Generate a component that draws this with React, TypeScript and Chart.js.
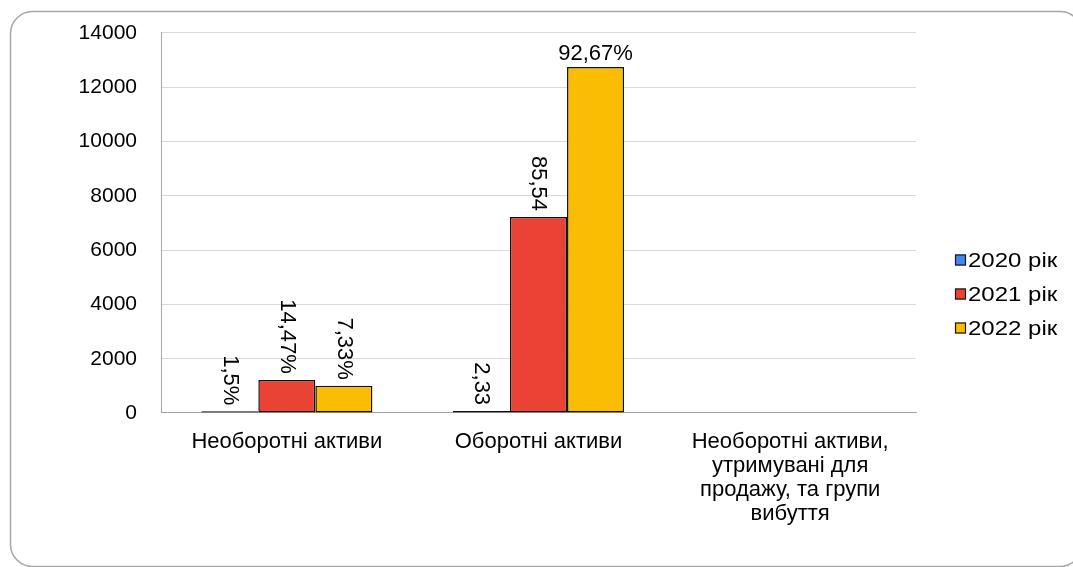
import React, { useEffect, useRef } from "react";
import { Chart, registerables } from "chart.js";

Chart.register(...registerables);

const categories: string[][] = [
  ["Необоротні активи"],
  ["Оборотні активи"],
  ["Необоротні активи,", "утримувані для", "продажу, та групи", "вибуття"],
];
const seriesNames = ["2020 рік", "2021 рік", "2022 рік"];
const values2020 = [60, 70, 0];
const values2021 = [1220, 7220, 0];
const values2022 = [1000, 12750, 0];
const labels2020 = ["1,5%", "2,33", ""];
const labels2021 = ["14,47%", "85,54", ""];
const labels2022 = ["7,33%", "92,67%", ""];
const yTicks = [0, 2000, 4000, 6000, 8000, 10000, 12000, 14000];

const colors = ["#4285f4", "#ea4335", "#fbbc04"];
const FONT = "'Liberation Sans', Arial, sans-serif";

export default function App() {
  const ref = useRef<HTMLCanvasElement>(null);
  useEffect(() => {
    if (!ref.current) return;
    const seriesValues = [values2020, values2021, values2022];
    const seriesLabels = [labels2020, labels2021, labels2022];
    const horizontal = new Set(["2-1"]);

    const framePlugin = {
      id: "frame",
      beforeDraw(chart: any) {
        const ctx = chart.ctx;
        ctx.save();
        ctx.fillStyle = "#ffffff";
        ctx.fillRect(0, 0, chart.width, chart.height);
        ctx.strokeStyle = "#a6a6a6";
        ctx.lineWidth = 1.5;
        ctx.beginPath();
        (ctx as any).roundRect(10.5, 11.5, 1071.5, 555, 22);
        ctx.stroke();
        ctx.restore();
      },
    };

    const dataLabelPlugin = {
      id: "dataLabels",
      afterDatasetsDraw(chart: any) {
        const ctx = chart.ctx;
        ctx.save();
        ctx.fillStyle = "#000";
        ctx.font = `22px ${FONT}`;
        chart.data.datasets.forEach((_: any, i: number) => {
          const meta = chart.getDatasetMeta(i);
          meta.data.forEach((bar: any, j: number) => {
            const text = seriesLabels[i][j];
            if (!text) return;
            if (horizontal.has(`${i}-${j}`)) {
              ctx.textAlign = "center";
              ctx.textBaseline = "alphabetic";
              ctx.fillText(text, bar.x, bar.y - 7);
            } else {
              ctx.save();
              ctx.translate(bar.x, bar.y - 6);
              ctx.rotate(Math.PI / 2);
              ctx.textAlign = "right";
              ctx.textBaseline = "middle";
              ctx.fillText(text, 0, 0);
              ctx.restore();
            }
          });
        });
        ctx.restore();
      },
    };

    const legendPlugin = {
      id: "customLegend",
      afterDraw(chart: any) {
        const ctx = chart.ctx;
        ctx.save();
        ctx.font = `20px ${FONT}`;
        ctx.textBaseline = "middle";
        ctx.textAlign = "left";
        seriesNames.forEach((name, i) => {
          const cy = 260 + i * 34;
          ctx.fillStyle = colors[i];
          ctx.fillRect(955, cy - 5.5, 11, 11);
          ctx.strokeStyle = "#1a1a1a";
          ctx.lineWidth = 1.2;
          ctx.strokeRect(955.5, cy - 5, 10, 10);
          ctx.fillStyle = "#000";
          ctx.save();
          ctx.translate(968, cy + 1);
          ctx.scale(1.2, 1);
          ctx.fillText(name, 0, 0);
          ctx.restore();
        });
        ctx.restore();
      },
    };

    const chart = new Chart(ref.current, {
      type: "bar",
      data: {
        labels: categories,
        datasets: seriesNames.map((name, i) => ({
          label: name,
          data: seriesValues[i],
          backgroundColor: colors[i],
          borderColor: "#111111",
          borderWidth: 1.5,
          borderSkipped: false,
          categoryPercentage: 0.68,
          barPercentage: 1,
        })),
      },
      options: {
        animation: false,
        responsive: false,
        devicePixelRatio: 1,
        layout: { padding: { left: 0, right: 157, top: 20, bottom: 0 } },
        plugins: {
          legend: { display: false },
          tooltip: { enabled: false },
        },
        scales: {
          x: {
            grid: { display: false, drawTicks: false },
            border: { display: true, color: "#a6a6a6", width: 1 },
            ticks: {
              color: "#000",
              font: { family: FONT, size: 22, lineHeight: 1.09 },
              padding: 17,
              maxRotation: 0,
              autoSkip: false,
            },
            afterFit(scale: any) {
              scale.height = 154;
            },
          },
          y: {
            min: 0,
            max: 14000,
            afterBuildTicks(scale: any) {
              scale.ticks = yTicks.map((v) => ({ value: v }));
            },
            grid: { color: "#d9d9d9", lineWidth: 1, drawTicks: false },
            border: { display: true, color: "#a6a6a6", width: 1 },
            ticks: {
              color: "#000",
              font: { family: FONT, size: 21, lineHeight: 0.857 },
              padding: 24,
              callback: (v: any) => String(v),
            },
            afterFit(scale: any) {
              scale.width = 161;
            },
          },
        },
      },
      plugins: [framePlugin, dataLabelPlugin, legendPlugin],
    });
    return () => chart.destroy();
  }, []);

  return (
    <div style={{ position: "fixed", left: 0, top: 0, width: 1073, height: 567 }}>
      <canvas ref={ref} width={1073} height={567} />
    </div>
  );
}
